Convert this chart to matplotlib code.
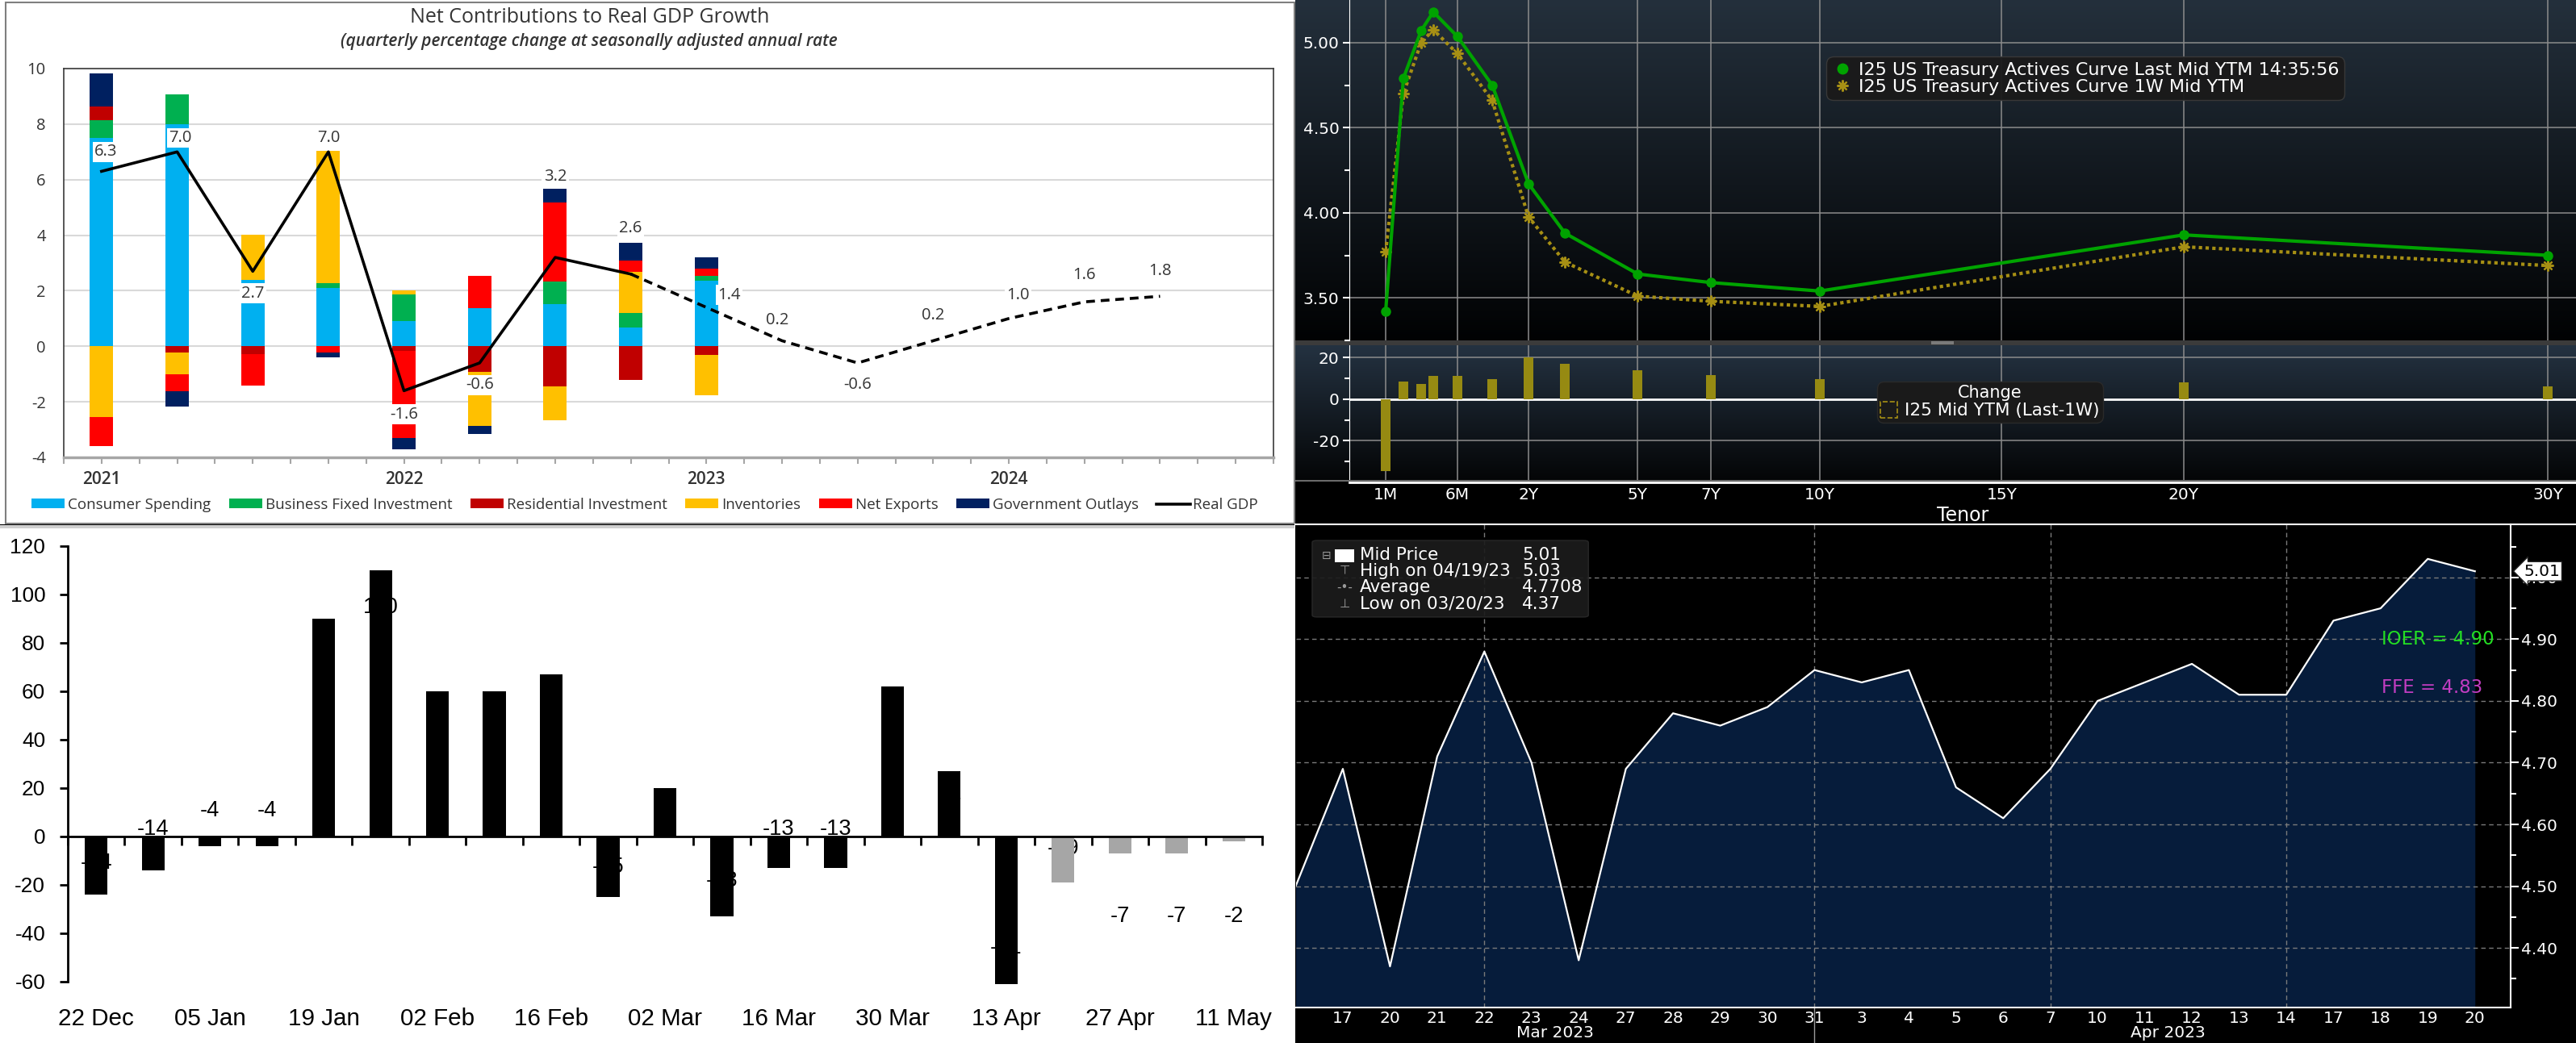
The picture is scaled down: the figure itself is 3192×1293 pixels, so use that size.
"""Four-panel rates / GDP dashboard recreated with matplotlib.

Panels: GDP contributions (top left), UST actives curve (top right),
weekly flows (bottom left), mid-price history (bottom right).
"""
import numpy as np
import matplotlib
matplotlib.use("Agg")
import matplotlib.pyplot as plt
import matplotlib.transforms as mtransforms
from matplotlib import font_manager
from matplotlib.colors import LinearSegmentedColormap
from matplotlib.lines import Line2D
from matplotlib.patches import FancyBboxPatch, Patch, Rectangle

W, H = 3192, 1293

# ---- top left: contributions to real GDP growth (pp, SAAR) ----
quarters = ["2021Q1", "2021Q2", "2021Q3", "2021Q4", "2022Q1", "2022Q2", "2022Q3", "2022Q4",
            "2023Q1", "2023Q2", "2023Q3", "2023Q4", "2024Q1", "2024Q2", "2024Q3", "2024Q4"]
consumer = [7.5, 8.0, 2.4, 2.1, 0.9, 1.36, 1.51, 0.68, 2.35]
business_fixed = [0.64, 1.08, 0.0, 0.18, 0.96, 0.0, 0.82, 0.51, 0.18]
residential = [0.49, -0.23, -0.29, 0.0, -0.17, -0.92, -1.43, -1.22, -0.32]
inventories = [-2.55, -0.79, 1.62, 4.77, 0.14, -1.95, -1.22, 1.49, -1.45]
net_exports = [-1.03, -0.61, -1.12, -0.23, -3.13, 1.17, 2.85, 0.40, 0.27]
government = [1.19, -0.53, 0.0, -0.17, -0.41, -0.29, 0.48, 0.64, 0.40]
real_gdp = [6.3, 7.0, 2.7, 7.0, -1.6, -0.6, 3.2, 2.6, 1.4, 0.2, -0.6, 0.2, 1.0, 1.6, 1.8]
last_actual = 7  # index of the last released quarter, forecast after it
gdp_label_y = [7.0, 7.5, 1.9, 7.5, -2.45, -1.4, 6.1, 4.25, 1.85, 0.95, -1.4, 1.1, 1.85, 2.55, 2.7]
gdp_label_dx = [0.06, 0.04, 0, 0, 0, 0, 0, 0, 0.3, -0.06, 0, 0, 0.12, 0, 0]

# ---- top right: I25 US Treasury actives curve ----
tenor_names = ["1M", "2M", "3M", "4M", "6M", "1Y", "2Y", "3Y", "5Y", "7Y", "10Y", "20Y", "30Y"]
tenor_years = [1 / 12, 2 / 12, 3 / 12, 4 / 12, 0.5, 1, 2, 3, 5, 7, 10, 20, 30]
ytm_last = [3.42, 4.79, 5.07, 5.18, 5.035, 4.75, 4.17, 3.88, 3.64, 3.59, 3.54, 3.87, 3.75]
ytm_1w = [3.77, 4.70, 5.00, 5.075, 4.935, 4.66, 3.975, 3.71, 3.51, 3.48, 3.45, 3.80, 3.69]
change_bp = [-34.5, 8.4, 7.5, 11.2, 11.2, 9.8, 20.1, 17.0, 13.9, 11.6, 9.8, 8.1, 6.2]
axis_tenors = [1 / 12, 0.5, 2, 5, 7, 10, 15, 20, 30]
axis_tenor_names = ["1M", "6M", "2Y", "5Y", "7Y", "10Y", "15Y", "20Y", "30Y"]

# ---- bottom left: weekly flows ----
weeks = ["22 Dec", "29 Dec", "05 Jan", "12 Jan", "19 Jan", "26 Jan", "02 Feb", "09 Feb",
         "16 Feb", "23 Feb", "02 Mar", "09 Mar", "16 Mar", "23 Mar", "30 Mar", "06 Apr",
         "13 Apr", "20 Apr", "27 Apr", "04 May", "11 May"]
flows = [-24, -14, -4, -4, 90, 110, 60, 60, 67, -25, 20, -33, -13, -13, 62, 27,
         -61, -19, -7, -7, -2]
first_estimate = 17  # grey bars from here on
flow_label_y = [-11, 3, 10.6, 10.6, 77, 94.6, 45, 45, 52, -12.6, 8.6, -18.4, 3, 3,
                48, 12, -46, -5, -33, -33, -33]

# ---- bottom right: mid price ----
day_labels = ["16", "17", "20", "21", "22", "23", "24", "27", "28", "29", "30", "31",
              "3", "4", "5", "6", "7", "10", "11", "12", "13", "14", "17", "18", "19", "20"]
day_months = ["Mar"] * 12 + ["Apr"] * 14
mid_price = [4.50, 4.69, 4.37, 4.71, 4.88, 4.70, 4.38, 4.69, 4.78, 4.76, 4.79, 4.85, 4.83,
             4.85, 4.66, 4.61, 4.69, 4.80, 4.83, 4.86, 4.81, 4.81, 4.93, 4.95, 5.03, 5.01]
grid_days = [("Mar", "22"), ("Mar", "31"), ("Apr", "7"), ("Apr", "14")]
ioer, ffe = 4.90, 4.83

plt.rcParams["font.family"] = "DejaVu Sans"
names = {f.name for f in font_manager.fontManager.ttflist}
if "Liberation Sans Narrow" in names:
    NARROW, NS = "Liberation Sans Narrow", 1.0
else:
    NARROW, NS = "Liberation Sans", 0.82
EXCEL = "Open Sans" if "Open Sans" in names else "DejaVu Sans"


def rect(x0, y0, x1, y1):
    """Pixel box (top-left origin) -> figure fraction rect."""
    return [x0 / W, 1 - y1 / H, (x1 - x0) / W, (y1 - y0) / H]


def fig_rect(fig, x0, y0, x1, y1, **kw):
    r = rect(x0, y0, x1, y1)
    fig.add_artist(Rectangle((r[0], r[1]), r[2], r[3], transform=fig.transFigure, **kw))


def gradient(fig, box, top, bottom):
    g = fig.add_axes(rect(*box))
    cmap = LinearSegmentedColormap.from_list("bg", [top, bottom])
    g.imshow(np.linspace(0, 1, 256)[:, None], cmap=cmap, aspect="auto",
             extent=(0, 1, 0, 1), interpolation="bilinear")
    g.set_axis_off()
    return g


fig = plt.figure(figsize=(W / 100, H / 100), dpi=100, facecolor="black")

# panel backgrounds
fig_rect(fig, 0, 0, 1605, 650, facecolor="white", edgecolor="none", zorder=-3)
fig_rect(fig, 0, 651, 1605, H, facecolor="white", edgecolor="none", zorder=-3)
fig_rect(fig, 7, 3, 1604, 649, fill=False, edgecolor="#7f7f7f", lw=1.5, zorder=1)
fig_rect(fig, 0, 651, 1604, 655, facecolor="#d0d0d0", edgecolor="none", zorder=-2)

# ================= top left: GDP contributions =================
GREY = "#404040"
ax = fig.add_axes(rect(79, 85, 1578, 567))
xq = np.arange(len(quarters))
xb = xq[:len(consumer)]
components = [
    ("Consumer Spending", consumer, "#00b0f0"),
    ("Business Fixed Investment", business_fixed, "#00b050"),
    ("Residential Investment", residential, "#c00000"),
    ("Inventories", inventories, "#ffc000"),
    ("Net Exports", net_exports, "#ff0000"),
    ("Government Outlays", government, "#002060"),
]
pos_base = np.zeros(len(xb))
neg_base = np.zeros(len(xb))
handles = []
for name, vals, color in components:
    v = np.asarray(vals, dtype=float)
    pos = np.where(v > 0, v, 0.0)
    neg = np.where(v < 0, v, 0.0)
    ax.bar(xb, pos, bottom=pos_base, width=0.31, color=color, lw=0, zorder=2)
    ax.bar(xb, neg, bottom=neg_base, width=0.31, color=color, lw=0, zorder=2)
    pos_base += pos
    neg_base += neg
    handles.append(Patch(facecolor=color, label=name))

gx = xq[:len(real_gdp)]
ax.plot(gx[:last_actual + 1], real_gdp[:last_actual + 1], color="black", lw=2.6, zorder=3)
ax.plot(gx[last_actual:], real_gdp[last_actual:], color="black", lw=2.6,
        dashes=(3, 2), zorder=3)
handles.append(Line2D([], [], color="black", lw=2.6, label="Real GDP"))
for i, v in enumerate(real_gdp):
    ax.text(gx[i] + gdp_label_dx[i], gdp_label_y[i], f"{v:.1f}", ha="center", va="center",
            fontsize=14.5, color="#333333", family=EXCEL, zorder=4,
            bbox=dict(boxstyle="square,pad=0.12", facecolor="white", edgecolor="none"))

ax.set_xlim(-0.5, len(quarters) - 0.5)
ax.set_ylim(-4, 10)
ax.set_yticks(np.arange(-4, 11, 2))
ax.set_yticklabels([f"{t:d}" for t in np.arange(-4, 11, 2)], family=EXCEL)
ax.tick_params(axis="y", length=0, pad=16, labelsize=14.5, labelcolor="#333333")
ax.set_xticks(xq)
ax.set_xticklabels([q[:4] if q.endswith("Q1") else "" for q in quarters], family=EXCEL,
                   weight="semibold")
ax.set_xticks(np.arange(-0.5, len(quarters), 1), minor=True)
ax.tick_params(axis="x", which="both", length=6, width=1.5, color="#a6a6a6",
               labelsize=15, labelcolor="#333333", pad=6)
ax.yaxis.grid(True, color="#d9d9d9", lw=1.5)
ax.set_axisbelow(True)
for side in ("top", "right", "left"):
    ax.spines[side].set_color("#3a3a3a")
    ax.spines[side].set_linewidth(1.2)
ax.spines["bottom"].set_color("#a6a6a6")
ax.spines["bottom"].set_linewidth(2.5)

fig.text(731 / W, 1 - 22 / H, "Net Contributions to Real GDP Growth", ha="center",
         va="center", fontsize=18, color="#333333", family=EXCEL)
fig.text(730 / W, 1 - 52 / H, "(quarterly percentage change at seasonally adjusted annual rate",
         ha="center", va="center", fontsize=15, color="#333333", family=EXCEL,
         style="italic", weight="semibold")
fig.legend(handles=handles, loc="center", bbox_to_anchor=(799 / W, 1 - 626 / H), ncol=7,
           frameon=False, handlelength=2.2, handleheight=0.6, handletextpad=0.2,
           columnspacing=1.2, labelcolor="#333333", prop=dict(family=EXCEL, size=13.5))

# ================= top right: treasury curve =================
scale_years = [-0.25, 1 / 12, 0.25, 0.5, 1, 30, 40]
scale_units = [-88, 0, 44, 89, 132, 1440, 1891]


def tenor_fwd(x):
    return np.interp(x, scale_years, scale_units)


def tenor_inv(u):
    return np.interp(u, scale_units, scale_years)


gradient(fig, (1605, 0, W, 422), "#24303c", "#010203")
gradient(fig, (1605, 428, W, 598), "#243241", "#040506")
fig_rect(fig, 1605, 422, W, 428, facecolor="#3b3b3b", edgecolor="none", zorder=-1)
fig_rect(fig, 2393, 423, 2421, 427, facecolor="#7a7a7a", edgecolor="none", zorder=-1)

GREEN, GOLD = "#00a300", "#a68f14"
curve = fig.add_axes(rect(1672, 0, W, 422))
chg = fig.add_axes(rect(1672, 428, W, 598))
for a in (curve, chg):
    a.set_facecolor("none")
    a.set_xscale("function", functions=(tenor_fwd, tenor_inv))
    a.set_xlim(tenor_inv(-45), tenor_inv(1475))
    a.set_xticks(axis_tenors)
    a.grid(True, which="major", color="#8c8c8c", lw=1.1)
    for side in ("top", "right", "bottom"):
        a.spines[side].set_visible(False)
    a.spines["left"].set_color("white")
    a.tick_params(axis="y", which="both", colors="white", direction="out", width=1.5,
                  labelsize=14.5, pad=3)
    a.tick_params(axis="y", which="major", length=6)
    a.tick_params(axis="y", which="minor", length=4)
    a.tick_params(axis="x", length=0, colors="white", labelsize=14.5, pad=4)

curve.plot(tenor_years, ytm_1w, color=GOLD, ls=(0, (1, 1)), lw=3, marker=(8, 2, 0),
           ms=10, mew=1.6, zorder=3)
curve.plot(tenor_years, ytm_last, color=GREEN, lw=3, marker="o", ms=8, zorder=4)
curve.set_ylim(3.25, 5.25)
curve.set_yticks([3.5, 4.0, 4.5, 5.0])
curve.set_yticklabels(["3.50", "4.00", "4.50", "5.00"])
curve.set_yticks([3.25, 3.75, 4.25, 4.75], minor=True)
curve.tick_params(axis="x", labelbottom=False)
leg = curve.legend(
    handles=[Line2D([], [], color=GREEN, marker="o", ls="none", ms=9),
             Line2D([], [], color=GOLD, marker=(8, 2, 0), ls="none", ms=10, mew=1.6)],
    labels=["I25 US Treasury Actives Curve Last Mid YTM 14:35:56",
            "I25 US Treasury Actives Curve 1W Mid YTM"],
    loc="upper left", bbox_to_anchor=(0.389, 0.834), borderaxespad=0, fontsize=16,
    labelcolor="white", facecolor="#1a1a1a", edgecolor="#3a3a3a", framealpha=0.95,
    handletextpad=0.3, borderpad=0.3, labelspacing=0.05, handlelength=1.2)
leg.get_frame().set_boxstyle("round,pad=0,rounding_size=0.4")

bar_left = tenor_inv(tenor_fwd(tenor_years) - 6)
bar_right = tenor_inv(tenor_fwd(tenor_years) + 6)
chg.bar(bar_left, change_bp, width=bar_right - bar_left, align="edge", color="#968a12",
        lw=0, zorder=3)
chg.axhline(0, color="white", lw=2, zorder=2.5)
chg.set_ylim(-40, 26)
chg.set_yticks([-20, 0, 20])
chg.set_yticklabels(["-20", "0", "20"])
chg.set_yticks([-30, -10, 10], minor=True)
chg.set_xticklabels(axis_tenor_names)
chg.spines["bottom"].set_visible(True)
chg.spines["bottom"].set_color("white")
chg.spines["bottom"].set_linewidth(2)
fig_rect(fig, 1605, 595, W, 597, facecolor="#6a6a6a", edgecolor="none", zorder=1)
leg2 = chg.legend(handles=[Patch(facecolor="none", edgecolor=GOLD, ls="--", lw=1.2)],
                  labels=["I25 Mid YTM (Last-1W)"], title="Change", loc="upper left",
                  bbox_to_anchor=(0.43, 0.735), borderaxespad=0, fontsize=15.5,
                  title_fontsize=15, labelcolor="white", facecolor="#1a1a1a",
                  edgecolor="#2a2a2a", framealpha=1, handlelength=1.0, handleheight=1.0,
                  handletextpad=0.4, borderpad=0.2, labelspacing=0.05)
leg2.get_title().set_color("white")
leg2.set_zorder(6)
leg2.get_frame().set_boxstyle("round,pad=0,rounding_size=0.4")
fig.text(2400 / W, 1 - 639 / H, "Tenor", color="white", fontsize=17, ha="left", va="center")

# ================= bottom left: weekly flows =================
fl = fig.add_axes(rect(84, 676.6, 1564, 1221.3))
fl.set_facecolor("none")
xw = np.arange(len(weeks))
colors = ["#000000" if i < first_estimate else "#a6a6a6" for i in xw]
fl.bar(xw, flows, width=0.4, color=colors, lw=0, zorder=2)
for i, v in enumerate(flows):
    fl.text(i, flow_label_y[i], f"{v:d}", ha="center", va="center", fontsize=24 * NS,
            family=NARROW, color="black", zorder=1.5)
fl.set_xlim(-0.5, len(weeks) - 0.5)
fl.set_ylim(-61.5, 120)
fl.spines["left"].set_bounds(-60, 120)
fl.spines["bottom"].set_position(("data", 0))
for side in ("left", "bottom"):
    fl.spines[side].set_color("black")
    fl.spines[side].set_linewidth(2)
for side in ("top", "right"):
    fl.spines[side].set_visible(False)
yt = np.arange(-60, 121, 20)
fl.set_yticks(yt)
fl.set_yticklabels([f"{t:d}" for t in yt], family=NARROW)
fl.tick_params(axis="y", direction="out", length=7, width=2, labelsize=23 * NS, pad=13)
fl.set_xticks(xw[::2])
fl.set_xticklabels(weeks[::2], family=NARROW)
fl.set_xticks(np.arange(-0.5, len(weeks), 1), minor=True)
fl.tick_params(axis="x", which="major", length=0, labelsize=26 * NS, pad=153)
fl.tick_params(axis="x", which="minor", direction="out", length=8, width=2)

# ================= bottom right: mid price =================
mp = fig.add_axes(rect(1605.5, 650, 3110.6, 1248.6))
mp.set_facecolor("black")
xd = np.arange(len(mid_price))
ylo, yhi = 4.304, 5.086
mp.set_ylim(ylo, yhi)
mp.set_xlim(0, len(mid_price) - 0.25)
mp.fill_between(xd, mid_price, ylo, color="#061c3b", lw=0, zorder=1)
mp.plot(xd, mid_price, color="white", lw=1.6, zorder=3)
yt = np.round(np.arange(4.4, 5.01, 0.1), 2)
mp.set_yticks(yt)
mp.set_yticklabels([f"{t:.2f}" for t in yt])
mp.set_yticks(np.round(np.arange(4.35, 5.06, 0.1), 2), minor=True)
mp.yaxis.tick_right()
mp.tick_params(axis="y", which="both", colors="white", direction="out", width=1.5,
               labelsize=14.5, pad=3)
mp.tick_params(axis="y", which="major", length=7)
mp.tick_params(axis="y", which="minor", length=5)
mp.set_xticks(xd[1:])
mp.set_xticklabels(day_labels[1:])
mp.tick_params(axis="x", length=0, colors="white", labelsize=14.5, pad=3)
mp.yaxis.grid(True, color="#7a7a7a", lw=1, ls=(0, (4, 3)), zorder=2)
for m, d in grid_days:
    k = [i for i in xd if day_months[i] == m and day_labels[i] == d][0]
    mp.axvline(k, color="#7a7a7a", lw=1, ls=(0, (4, 3)), zorder=2)
mp.spines["left"].set_visible(False)
for side in ("right", "bottom"):
    mp.spines[side].set_color("white")
    mp.spines[side].set_linewidth(1.5)
mp.spines["top"].set_visible(False)
fig.add_artist(Line2D([1605 / W, 1], [1 - 650 / H] * 2, transform=fig.transFigure,
                      color="white", lw=1.5))

xax = mp.get_xaxis_transform()
for m, label in (("Mar", "Mar 2023"), ("Apr", "Apr 2023")):
    idx = [i for i in xd if day_months[i] == m]
    mp.text(np.mean(idx), -0.0535, label, transform=xax, ha="center", va="center",
            color="white", fontsize=14.5, clip_on=False)
month_end = [i for i in xd if day_months[i] == "Mar"][-1]
mp.plot([month_end, month_end], [0, -0.075], transform=xax, color="#9a9a9a", lw=1,
        clip_on=False)

blend = mtransforms.blended_transform_factory(mp.transAxes, mp.transData)
mp.text(0.894, ioer, f"IOER = {ioer:.2f}", transform=blend, color="#23e023",
        fontsize=16.5, ha="left", va="center", zorder=6)
mp.text(0.894, ffe - 0.008, f"FFE = {ffe:.2f}", transform=blend, color="#c23dc2",
        fontsize=16.5, ha="left", va="center", zorder=6)
mp.text(1.011, mid_price[-1], f"{mid_price[-1]:.2f}", transform=blend, color="black",
        fontsize=14.5, ha="left", va="center", zorder=10, clip_on=False,
        bbox=dict(boxstyle="larrow,pad=0.12", facecolor="white", edgecolor="#222222"))

# stats box, top left of the price panel
mp.add_patch(FancyBboxPatch((0.0136, 0.808), 0.2274, 0.1586, transform=mp.transAxes,
                            boxstyle="round,pad=0,rounding_size=0.004",
                            facecolor="#1c1c1c", edgecolor="#2a2a2a", alpha=0.92, zorder=7))
stats = [("Mid Price", "5.01"), ("High on 04/19/23", "5.03"),
         ("Average", f"{np.mean(mid_price[1:]):.4f}"), ("Low on 03/20/23", "4.37")]
rows = [0.9357, 0.9025, 0.8692, 0.8353]
icons = ["", "\u22a4", "-\u2022-", "\u22a5"]
for (lab, val), ry, ic in zip(stats, rows, icons):
    mp.text(0.0526, ry, lab, transform=mp.transAxes, color="white", fontsize=15.5,
            ha="left", va="center", zorder=8)
    mp.text(0.1864, ry, val, transform=mp.transAxes, color="white", fontsize=15.5,
            ha="left", va="center", zorder=8)
    if ic:
        mp.text(0.0405, ry, ic, transform=mp.transAxes, color="#9a9a9a", fontsize=11,
                ha="center", va="center", zorder=8)
mp.add_patch(Rectangle((0.0322, rows[0] - 0.0134), 0.016, 0.0267, transform=mp.transAxes,
                       facecolor="white", edgecolor="none", zorder=8))
mp.text(0.0256, rows[0], "\u229f", transform=mp.transAxes, color="#9a9a9a", fontsize=10,
        ha="center", va="center", zorder=8)

fig.savefig("out.png", dpi=100, facecolor=fig.get_facecolor())
